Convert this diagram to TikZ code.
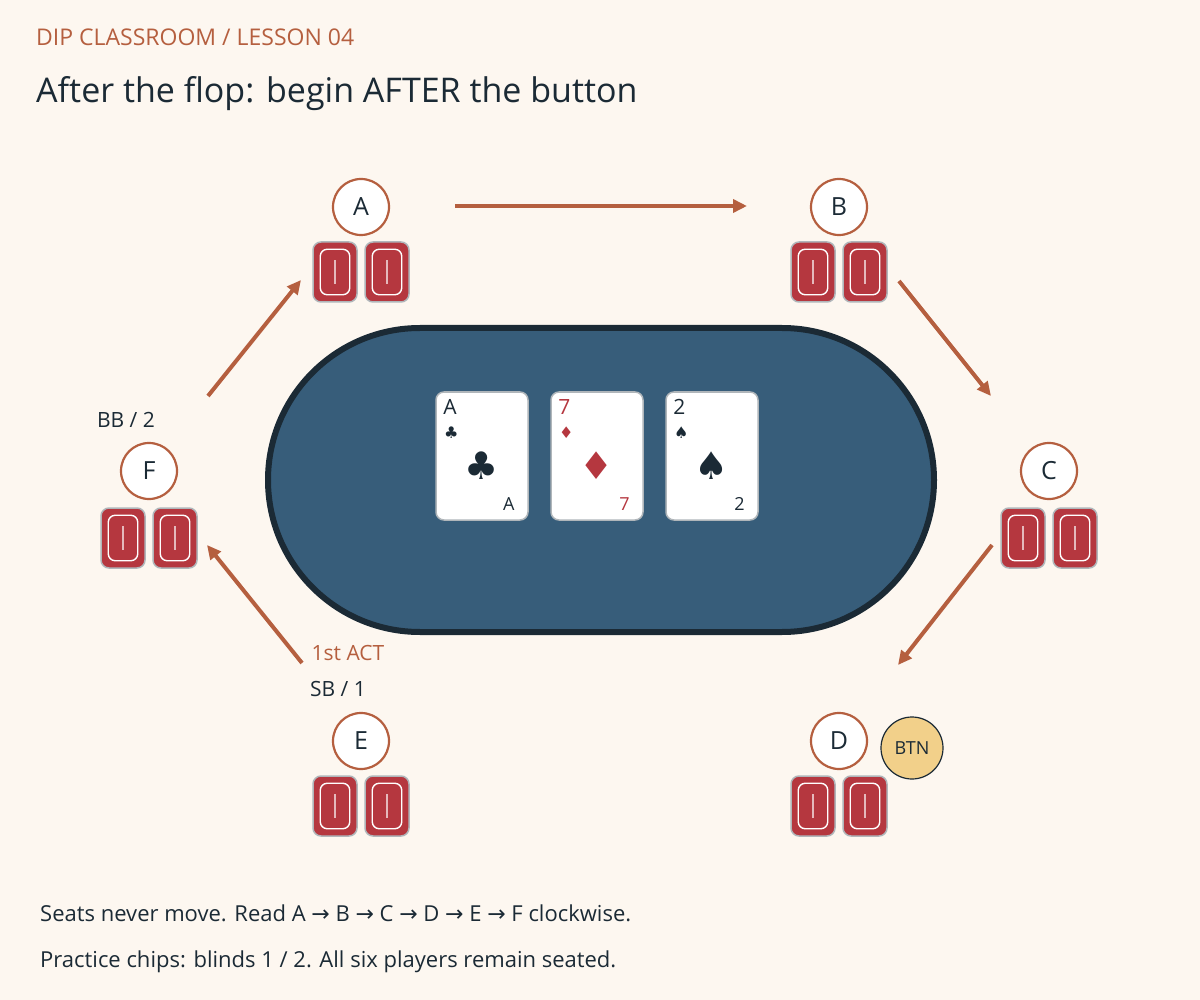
\documentclass[tikz,border=0pt]{standalone}
\usepackage{fontspec}
\setmainfont{Open Sans}
\newfontfamily\symfont{DejaVu Sans}
\usetikzlibrary{positioning,arrows.meta}
\definecolor{paper}{HTML}{FDF7F0}
\definecolor{rust}{HTML}{B55F3F}
\definecolor{ink}{HTML}{1B2A35}
\definecolor{felt}{HTML}{375D7A}
\definecolor{cardred}{HTML}{B5373F}
\definecolor{edge}{HTML}{B0B6BA}
\definecolor{btn}{HTML}{F2D08A}
\tikzset{
  seat/.style={circle,draw=rust,line width=2.2pt,fill=white,minimum size=56pt,inner sep=0pt,font=\fontsize{25}{25}\selectfont,text=ink},
  hole/.style={rounded corners=8pt,draw=edge,line width=1.5pt,fill=cardred,minimum width=44pt,minimum height=60pt,inner sep=0pt},
  flop/.style={rounded corners=8pt,draw=edge,line width=1.5pt,fill=white,minimum width=92pt,minimum height=128pt,inner sep=0pt},
  move/.style={draw=rust,line width=4pt,-{Triangle[length=14pt,width=13pt]}},
  lbl/.style={font=\fontsize{21}{21}\selectfont,text=ink}
}
\newcommand{\holecard}[2]{%
  \node[hole] (#1) at (#2) {};
  \draw[white,line width=1.4pt,rounded corners=7pt] ([shift={(8pt,-8pt)}]#1.north west) rectangle ([shift={(-8pt,8pt)}]#1.south east);
  \draw[cardred!35!white,line width=1.2pt] ([yshift=-19pt]#1.north) -- ([yshift=19pt]#1.south);
}
\newcommand{\flopcard}[5]{% name, pos, rank, suit, colour
  \node[flop] (#1) at (#2) {};
  \node[anchor=north west,text=#5,font=\fontsize{21}{21}\selectfont,inner sep=0pt] at ([shift={(8pt,-8pt)}]#1.north west) {#3};
  \node[text=#5,font=\symfont\fontsize{16}{16}\selectfont,inner sep=0pt] at ([shift={(16pt,-41pt)}]#1.north west) {#4};
  \node[text=#5,font=\symfont\fontsize{38}{38}\selectfont,inner sep=0pt] at ([shift={(0pt,-10pt)}]#1.center) {#4};
  \node[anchor=south east,text=#5,font=\fontsize{18}{18}\selectfont,inner sep=0pt] at ([shift={(-14pt,10pt)}]#1.south east) {#3};
}
\begin{document}
\begin{tikzpicture}[x=1pt,y=-1pt]
\useasboundingbox[fill=paper] (0,0) rectangle (1200,1000);
%heading
\node[anchor=base west,inner sep=0pt,text=rust,font=\fontsize{23}{23}\selectfont] (kicker) at (36,46) {DIP CLASSROOM / LESSON 04};
\node[anchor=base west,inner sep=0pt,text=ink,font=\fontsize{34}{34}\selectfont] (title) at (36,103) {After the flop: begin AFTER the button};
%table
\draw[fill=felt,draw=ink,line width=6pt,rounded corners=152pt] (268,328) rectangle (934,632);
%flop
\flopcard{c1}{482,456}{A}{♣}{ink}
\flopcard{c2}{597,456}{7}{♦}{cardred}
\flopcard{c3}{712,456}{2}{♠}{ink}
%seats
\node[seat] (A) at (361,207) {A};
\node[seat] (B) at (839,207) {B};
\node[seat] (C) at (1049,471) {C};
\node[seat] (D) at (839,741) {D};
\node[seat] (E) at (361,741) {E};
\node[seat] (F) at (149,471) {F};
%hole cards
\foreach \s/\x/\y in {A/361/272,B/839/272,C/1049/538,D/839/806,E/361/806,F/149/538}{
  \holecard{\s l}{\x-26,\y}
  \holecard{\s r}{\x+26,\y}
}
%button
\node[circle,fill=btn,draw=ink,line width=1.2pt,minimum size=62pt,inner sep=0pt,text=ink,font=\fontsize{18}{18}\selectfont] (btn) at (912,748) {BTN};
%labels
\node[lbl] (bb) at (126,420) {BB / 2};
\node[lbl,text=rust] (first) at (348,653) {1st ACT};
\node[lbl] (sb) at (338,689) {SB / 1};
%order of play
\coordinate (ab1) at (455,206); \coordinate (ab2) at (747,206);
\coordinate (bc1) at (899,281); \coordinate (bc2) at (991,396);
\coordinate (cd1) at (992,545); \coordinate (cd2) at (898,665);
\coordinate (ef1) at (302,663); \coordinate (ef2) at (207,545);
\coordinate (fa1) at (208,396); \coordinate (fa2) at (301,280);
\draw[move] (ab1) -- (ab2);
\draw[move] (bc1) -- (bc2);
\draw[move] (cd1) -- (cd2);
\draw[move] (ef1) -- (ef2);
\draw[move] (fa1) -- (fa2);
%notes
\node[anchor=base west,inner sep=0pt,text=ink,font=\fontsize{22}{22}\selectfont] (note1) at (40,921) {Seats never move. Read A {\symfont→} B {\symfont→} C {\symfont→} D {\symfont→} E {\symfont→} F clockwise.};
\node[anchor=base west,inner sep=0pt,text=ink,font=\fontsize{22}{22}\selectfont] (note2) at (40,967) {Practice chips: blinds 1 / 2. All six players remain seated.};
\end{tikzpicture}
\end{document}
